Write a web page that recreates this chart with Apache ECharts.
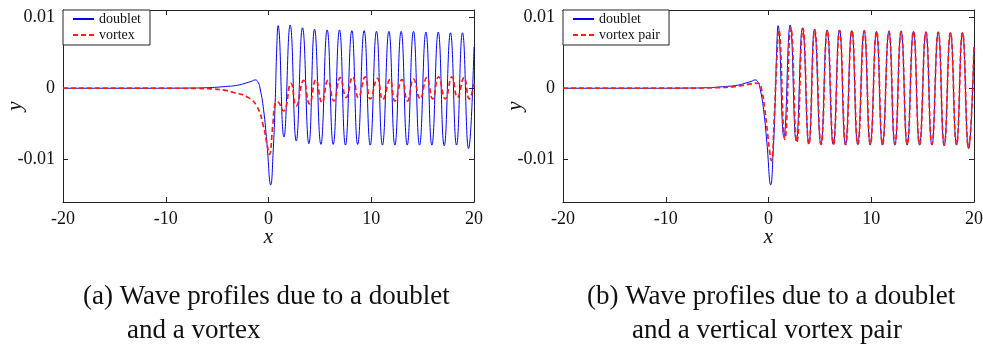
<!DOCTYPE html>
<html>
<head>
<meta charset="utf-8">
<script src="https://cdn.jsdelivr.net/npm/echarts@6/dist/echarts.min.js"></script>
<style>
  html, body { margin: 0; padding: 0; background: #fff; }
  #main { width: 983px; height: 345px; }
</style>
</head>
<body>
<div id="main"></div>
<script>
// wave profiles (x, y pairs at extrema and bends)
var doubletX = [-20, -12, -8, -6, -4.2, -3, -2.27, -1.7, -1.29, -1.0, -0.81, -0.48, -0.16, 0.22, 0.45, 0.65, 0.8, 0.93,
  1.5, 2.11, 2.7, 3.31, 3.93, 4.48, 5.1, 5.71, 6.3, 6.91, 7.49, 8.11, 8.68, 9.31, 9.9, 10.51, 11.09, 11.72, 12.3,
  12.91, 13.5, 14.11, 14.7, 15.32, 15.9, 16.52, 17.1, 17.71, 18.3, 18.88, 19.47, 20];
var doubletY = [0, 0, 0.00002, 0.00007, 0.00024, 0.00042, 0.0007, 0.00095, 0.00117, 0.0008, -0.0001, -0.003, -0.0076, -0.0136, -0.009, -0.002, 0.0055, 0.0088,
  -0.00686, 0.0089, -0.00742, 0.0085, -0.0078, 0.0083, -0.0079, 0.0082, -0.0079, 0.0082, -0.008, 0.0081, -0.0079, 0.0081, -0.008, 0.008, -0.008, 0.008, -0.008,
  0.008, -0.008, 0.008, -0.008, 0.0079, -0.008, 0.0079, -0.0081, 0.0078, -0.008, 0.0078, -0.0085, 0.0058];

var vortexX = [-20, -10, -7, -5.5, -4.2, -3.4, -2.1, -1.15, -0.5, -0.18, 0.08, 0.41, 0.63, 0.85, 1.46, 2.18, 2.7, 3.41, 3.99,
  4.61, 5.2, 5.78, 6.36, 6.98, 7.56, 8.2, 8.74, 9.41, 9.9, 10.6, 11.12, 11.82, 12.3, 12.98, 13.53, 14.11, 14.76, 15.4,
  15.98, 16.54, 17.2, 17.85, 18.39, 19.03, 19.54, 20];
var vortexY = [0, 0, -0.00003, -0.0001, -0.0003, -0.0006, -0.0012, -0.0025, -0.0053, -0.0076, -0.0093, -0.0053, -0.0022, -0.0019, -0.0032, 0.0007, -0.0025, 0.0011, -0.0022,
  0.0012, -0.002, 0.0011, -0.0018, 0.0015, -0.0013, 0.0016, -0.0013, 0.0016, -0.0015, 0.0014, -0.0016, 0.0012, -0.0018, 0.0012, -0.0018, 0.0013, -0.0015, 0.0015,
  -0.0015, 0.0016, -0.0015, 0.0016, -0.0013, 0.0015, -0.0015, 0.0006];

var pairX = [-20, -10, -7, -5, -3.5, -2.5, -1.7, -1.0, -0.62, -0.36, -0.1, 0.13, 0.29, 0.55, 0.78, 1.0, 1.59, 2.17, 2.76, 3.35, 3.93,
  4.5, 5.12, 5.72, 6.32, 6.92, 7.51, 8.12, 8.7, 9.32, 9.91, 10.52, 11.1, 11.72, 12.31, 12.91, 13.5, 14.11, 14.7, 15.32, 15.9,
  16.52, 17.1, 17.71, 18.3, 18.88, 19.47, 20];
var pairY = [0, 0, 0.00002, 0.00008, 0.0002, 0.0004, 0.0006, 0.0007, -0.0006, -0.003, -0.0062, -0.0091, -0.0102, -0.0044, 0.0031, 0.0082, -0.0072, 0.0085, -0.0076, 0.0084, -0.0079,
  0.0082, -0.0079, 0.0081, -0.0079, 0.0081, -0.0079, 0.0081, -0.0079, 0.0081, -0.0079, 0.008, -0.0079, 0.008, -0.0079, 0.008, -0.0079, 0.008, -0.0079, 0.0079, -0.0079,
  0.0079, -0.008, 0.0078, -0.0079, 0.0078, -0.0084, 0.0058];

var xTicks = [-20, -10, 0, 10, 20];
var yTicks = [-0.01, 0, 0.01];

var serif = "'Liberation Serif', 'DejaVu Serif', serif";
var ink = "#111";

function pairs(xs, ys) {
  return xs.map(function (x, i) { return [x, ys[i]]; });
}

var chart = echarts.init(document.getElementById("main"));

var grids = [
  { left: 63, top: 10, width: 411, height: 192, outerBoundsMode: "none", containLabel: false },
  { left: 563, top: 10, width: 411, height: 192, outerBoundsMode: "none", containLabel: false },
];

var xAxes = [];
var yAxes = [];
[0, 1].forEach(function (g) {
  xAxes.push({
    type: "value", gridIndex: g, min: -20, max: 20, interval: 10, position: "bottom",
    name: "x", nameLocation: "middle", nameGap: 25, nameMoveOverlap: false,
    nameTextStyle: { fontFamily: serif, fontStyle: "italic", fontSize: 21, color: ink },
    axisLine: { onZero: false, lineStyle: { color: "#222", width: 1 } },
    axisTick: { inside: true, length: 5, customValues: xTicks, lineStyle: { color: "#222" } },
    axisLabel: { margin: 8, customValues: xTicks, fontFamily: serif, fontSize: 18, color: ink },
    splitLine: { show: false },
  });
  xAxes.push({
    type: "value", gridIndex: g, min: -20, max: 20, interval: 10, position: "top",
    axisLine: { onZero: false, lineStyle: { color: "#222", width: 1 } },
    axisTick: { inside: true, length: 5, customValues: xTicks, lineStyle: { color: "#222" } },
    axisLabel: { show: false },
    splitLine: { show: false },
  });
  yAxes.push({
    type: "value", gridIndex: g, min: -0.016, max: 0.011, position: "left",
    name: "y", nameLocation: "middle", nameGap: 37, nameMoveOverlap: false,
    nameTextStyle: { fontFamily: serif, fontStyle: "italic", fontSize: 21, color: ink },
    axisLine: { show: true, onZero: false, lineStyle: { color: "#222", width: 1 } },
    axisTick: { show: true, inside: true, length: 5, customValues: yTicks, lineStyle: { color: "#222" } },
    axisLabel: { margin: 8, customValues: yTicks, fontFamily: serif, fontSize: 18, color: ink },
    splitLine: { show: false },
  });
  yAxes.push({
    type: "value", gridIndex: g, min: -0.016, max: 0.011, position: "right",
    axisLine: { show: true, onZero: false, lineStyle: { color: "#222", width: 1 } },
    axisTick: { show: true, inside: true, length: 5, customValues: yTicks, lineStyle: { color: "#222" } },
    axisLabel: { show: false },
    splitLine: { show: false },
  });
});

function legendAt(left, names) {
  return {
    orient: "vertical", left: left, top: 10, data: names,
    backgroundColor: "#fff", borderColor: "#222", borderWidth: 1, borderRadius: 0,
    padding: [2, 9, 3, 9], itemWidth: 21, itemHeight: 14, itemGap: 2,
    itemStyle: { opacity: 0 },
    textStyle: { fontFamily: serif, fontSize: 14, color: ink },
    selectedMode: false,
  };
}

var blueLine = { color: "#0000ff", width: 1 };
var redLine = { color: "#ff1a1a", width: 1.7, type: [5, 3] };

chart.setOption({
  animation: false,
  grid: grids,
  xAxis: xAxes,
  yAxis: yAxes,
  legend: [legendAt(63, ["doublet", "vortex"]), legendAt(563, ["doublet", "vortex pair"])],
  series: [
    { name: "doublet", type: "line", xAxisIndex: 0, yAxisIndex: 0, data: pairs(doubletX, doubletY),
      showSymbol: false, symbol: "none", smooth: 0.5, color: "#0000ff", lineStyle: blueLine, z: 2 },
    { name: "vortex", type: "line", xAxisIndex: 0, yAxisIndex: 0, data: pairs(vortexX, vortexY),
      showSymbol: false, symbol: "none", smooth: 0.5, color: "#ff1a1a", lineStyle: redLine, z: 3 },
    { name: "doublet", type: "line", xAxisIndex: 2, yAxisIndex: 2, data: pairs(doubletX, doubletY),
      showSymbol: false, symbol: "none", smooth: 0.5, color: "#0000ff", lineStyle: blueLine, z: 2 },
    { name: "vortex pair", type: "line", xAxisIndex: 2, yAxisIndex: 2, data: pairs(pairX, pairY),
      showSymbol: false, symbol: "none", smooth: 0.5, color: "#ff1a1a", lineStyle: redLine, z: 3 },
  ],
  graphic: [
    { type: "text", left: 83, top: 283, style: { text: "(a) Wave profiles due to a doublet", font: "27px " + serif, fill: ink } },
    { type: "text", left: 127, top: 317, style: { text: "and a vortex", font: "27px " + serif, fill: ink } },
    { type: "text", left: 587, top: 283, style: { text: "(b) Wave profiles due to a doublet", font: "27px " + serif, fill: ink } },
    { type: "text", left: 632, top: 317, style: { text: "and a vertical vortex pair", font: "27px " + serif, fill: ink } },
  ],
});
</script>
</body>
</html>
